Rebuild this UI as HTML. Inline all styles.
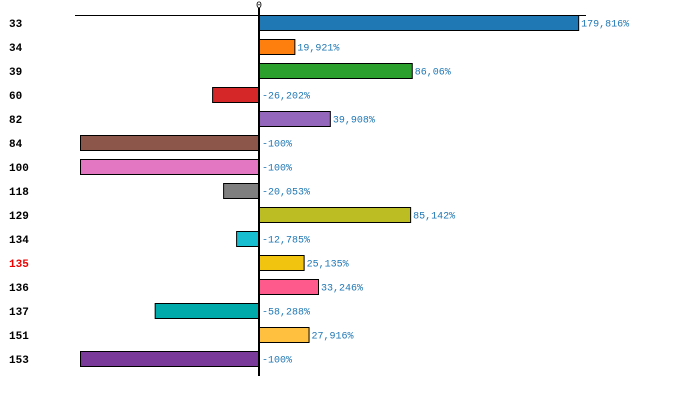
<!DOCTYPE html>
<html><head><style>body{margin:0;background:#fff}svg{display:block}</style></head><body>
<svg width="700" height="405" xmlns="http://www.w3.org/2000/svg" font-family="Liberation Mono, DejaVu Sans Mono, monospace">
<line x1="75" y1="15.5" x2="586" y2="15.5" stroke="#000" stroke-width="1"/>
<g id="bars" stroke="#000" stroke-width="1"></g>
<g id="txt"></g>
<line x1="259" y1="8" x2="259" y2="376" stroke="#000" stroke-width="2"/>
<text x="259" y="8" font-size="10" text-anchor="middle">0</text>
<script>
var d=[["33",179.816,"#1f77b4"],["34",19.921,"#ff7f0e"],["39",86.06,"#2ca02c"],["60",-26.202,"#d62728"],["82",39.908,"#9467bd"],["84",-100,"#8c564b"],["100",-100,"#e377c2"],["118",-20.053,"#7f7f7f"],["129",85.142,"#bcbd22"],["134",-12.785,"#17becf"],["135",25.135,"#f1c40f"],["136",33.246,"#ff5a8c"],["137",-58.288,"#00aaaa"],["151",27.916,"#ffc040"],["153",-100,"#7a3a9a"]];
var ns="http://www.w3.org/2000/svg",b=document.getElementById("bars"),t=document.getElementById("txt");
d.forEach(function(r,i){var y=15.5+i*24,w=Math.abs(r[1])*(r[1]>=0?1.775:1.79),x=r[1]>=0?259:259-w;
var re=document.createElementNS(ns,"rect");re.setAttribute("x",x+0.5);re.setAttribute("y",y);re.setAttribute("width",w);re.setAttribute("height",15);re.setAttribute("fill",r[2]);b.appendChild(re);
var l=document.createElementNS(ns,"text");l.setAttribute("x",9);l.setAttribute("y",y+11.5);l.setAttribute("font-size","11");l.setAttribute("font-weight","bold");l.setAttribute("fill",r[0]=="135"?"#e00":"#000");l.textContent=r[0];t.appendChild(l);
var v=document.createElementNS(ns,"text");v.setAttribute("x",r[1]>=0?259+w+3:262);v.setAttribute("y",y+11);v.setAttribute("font-size","10");v.setAttribute("fill","#1f77b4");
var s=(Math.round(r[1]*1000)/1000).toString().replace(".",",");v.textContent=s+"%";t.appendChild(v);});
</script>
</svg>
</body></html>
